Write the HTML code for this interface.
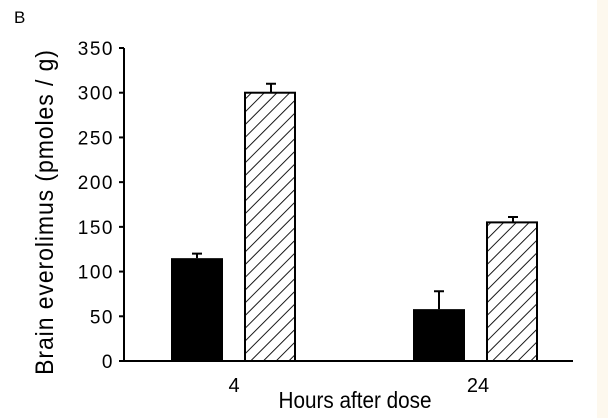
<!DOCTYPE html>
<html><head><meta charset="utf-8"><style>
html,body{margin:0;padding:0;background:#fff;}
svg{display:block;font-family:"Liberation Sans",sans-serif;}
</style></head><body>
<svg width="608" height="418" viewBox="0 0 608 418" id="chart">
<defs><pattern id="hatch" patternUnits="userSpaceOnUse" width="9" height="9" patternTransform="rotate(45)">
<line x1="0" y1="0" x2="0" y2="9" stroke="#000" stroke-width="1.8"/></pattern></defs>
<rect x="597" y="0" width="11" height="418" fill="#fdf8ee"/>
<text x="14" y="23" font-size="17">B</text>
<text transform="translate(53,212) rotate(-90) scale(0.92,1)" text-anchor="middle" font-size="25" letter-spacing="1">Brain everolimus (pmoles / g)</text>
<text transform="translate(355,408) scale(0.9,1)" text-anchor="middle" font-size="23">Hours after dose</text>
<g id="axes"></g><g id="bars"></g>
</svg>
<script>
const categories=["4","24"];
const solidValues=[115,58];
const solidErrors=[5,20];
const hatchedValues=[300,155];
const hatchedErrors=[10,6];
const yTicks=[0,50,100,150,200,250,300,350];
const NS="http://www.w3.org/2000/svg";
const y0=361,yPer=(361-48)/350;
const y=v=>y0-v*yPer;
const groupX=[171,413];
const barW=52,gap=22;
const axes=document.getElementById('axes'),bars=document.getElementById('bars');
function mk(tag,attrs,parent){const e=document.createElementNS(NS,tag);for(const k in attrs)e.setAttribute(k,attrs[k]);parent.appendChild(e);return e;}
let ax=mk('line',{x1:124,y1:y(350),x2:124,y2:y0+1,stroke:'#000','stroke-width':2},axes);


let bx=mk('line',{x1:119,y1:y0,x2:573,y2:y0,stroke:'#000','stroke-width':2},axes);


yTicks.forEach(t=>{
  let l=mk('line',{x1:119,y1:y(t),x2:124,y2:y(t),stroke:'#000','stroke-width':2},axes);
  
  
  let tx=mk('text',{x:114,y:y(t)+7,'text-anchor':'end','font-size':19,'letter-spacing':1.5},axes);
  tx.textContent=t;
  
  
});
categories.forEach((c,i)=>{
  const gx=groupX[i];
  const tx=mk('text',{x:gx+barW+gap/2+(i?2:0),y:392,'text-anchor':'middle','font-size':20},axes);
  tx.textContent=c;
  
  
  let sv=solidValues[i],se=solidErrors[i];
  let ex=gx+barW/2;
  let e1=mk('path',{d:`M${ex},${y(sv)} V${y(sv+se)} M${ex-5},${y(sv+se)} H${ex+5}`,stroke:'#000','stroke-width':2,fill:'none'},bars);
  
  
  let r=mk('rect',{x:gx,y:y(sv),width:barW,height:y0-y(sv),fill:'#000'},bars);
  
  
  let hv=hatchedValues[i],he=hatchedErrors[i];
  let hx=gx+barW+gap;
  let ex2=hx+barW/2;
  let e2=mk('path',{d:`M${ex2},${y(hv)} V${y(hv+he)} M${ex2-5},${y(hv+he)} H${ex2+5}`,stroke:'#000','stroke-width':2,fill:'none'},bars);
  
  
  let r2=mk('rect',{x:hx,y:y(hv),width:barW-2,height:y0-y(hv),fill:'url(#hatch)',stroke:'#000','stroke-width':2},bars);
  
  
});
</script>
</body></html>
